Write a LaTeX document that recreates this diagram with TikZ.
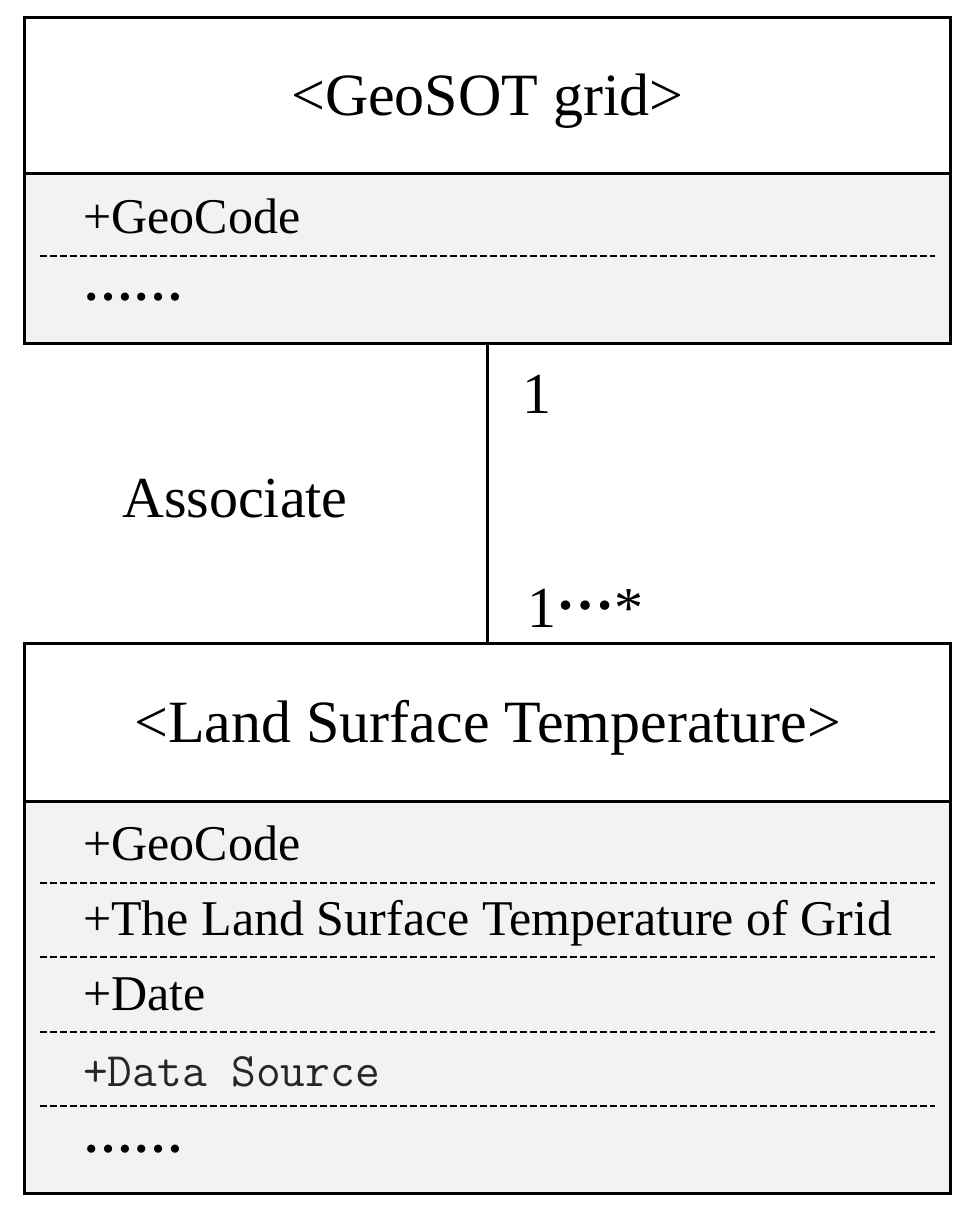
\documentclass[tikz,border=0pt]{standalone}
\usepackage{fontspec}
\setmainfont{Liberation Serif}
\usetikzlibrary{positioning}
\definecolor{attrgray}{HTML}{F2F2F2}

\begin{document}
\begin{tikzpicture}[x=1bp,y=-1bp,
  classbox/.style={draw,line width=3bp,minimum width=925bp,inner sep=0pt},
  head node/.style={classbox,fill=white,text height=40bp,text depth=0bp,
    font=\fontsize{60bp}{72bp}\selectfont},
  attr node/.style={classbox,fill=attrgray},
  attr text/.style={anchor=base west,inner sep=0pt,font=\fontsize{50bp}{60bp}\selectfont},
  rowline/.style={line width=2.5bp,dash pattern=on 7bp off 3bp},
  mult text/.style={anchor=base west,inner sep=0pt,font=\fontsize{58bp}{70bp}\selectfont}]

  \useasboundingbox (0,0) rectangle (972,1220);

  % GeoSOT grid class
  \node[head node,minimum height=156bp] (gridhead) at (487.5,95) {<GeoSOT grid>};
  \node[attr node,minimum height=170bp] (gridattr) at (487.5,258) {};
  \node[attr text] (gridcode) at (83,233) {+GeoCode};
  \node[attr text] (gridmore) at (83,300) {\bfseries ……};
  \draw[rowline] (40,256) -- (935,256);

  % land surface temperature class
  \node[head node,minimum height=158bp] (lsthead) at (487.5,722) {<Land Surface Temperature>};
  \node[attr node,minimum height=392bp] (lstattr) at (487.5,997) {};
  \node[attr text] (lstcode) at (83,860) {+GeoCode};
  \node[attr text] (lsttemp) at (83,935) {+The Land Surface Temperature of Grid};
  \node[attr text] (lstdate) at (83,1010) {+Date};
  \node[attr text,text=black!85,font=\ttfamily\fontsize{48bp}{58bp}\selectfont] (lstsrc) at (83,1086) {+Data Source};
  \node[attr text] (lstmore) at (83,1152) {\bfseries ……};
  \draw[rowline] (40,883) -- (935,883);
  \draw[rowline] (40,957) -- (935,957);
  \draw[rowline] (40,1032) -- (935,1032);
  \draw[rowline] (40,1106) -- (935,1106);

  % association
  \draw[line width=3bp] (gridattr.south) -- (lsthead.north);
  \node[mult text] (assoc) at (122,517) {Associate};
  \node[mult text] (multone) at (522,413) {1};
  \node[mult text] (multmany) at (527,627) {1\raisebox{18bp}{\bfseries …}*};
\end{tikzpicture}
\end{document}
